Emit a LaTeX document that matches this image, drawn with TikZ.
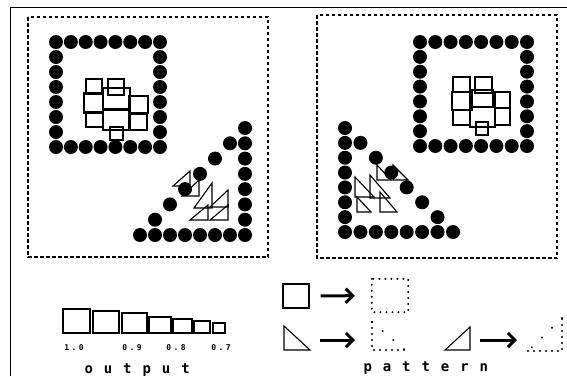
\documentclass[tikz,border=0pt]{standalone}
\usepackage{fontspec}
\newfontfamily\printfont[LetterSpace=78]{DejaVu Sans Mono}
\newfontfamily\digitfont[LetterSpace=30]{DejaVu Sans Mono}
\usetikzlibrary{arrows.meta}

\begin{document}
\begin{tikzpicture}[x=1pt,y=-1pt,
  frame/.style={line width=1pt},
  dashbox/.style={line width=1.5pt,dash pattern=on 3.5pt off 2.5pt},
  cell/.style={line width=1.1pt},
  wedge/.style={line width=1.1pt},
  dotline/.style={line width=2.2pt,line cap=round,dash pattern=on 0pt off 6pt},
  dotsparse/.style={line width=2.2pt,line cap=round,dash pattern=on 0pt off 14pt},
  bigarrow/.style={line width=3pt,-{Straight Barb[length=7pt,width=14pt,line width=3pt]}},
  size label/.style={font=\digitfont\bfseries\fontsize{8}{8}\selectfont},
  caption/.style={anchor=west,font=\printfont\bfseries\fontsize{14}{14}\selectfont}]
\useasboundingbox (0,0) rectangle (567,376);
\draw[frame] (10,376) -- (10,7) -- (567,7);
\draw[dashbox] (28,17) rectangle (268,257);
\draw[dashbox] (317,15) rectangle (557,258);
% left field: square ring of dots
\fill (56,42) circle[radius=7pt] (70.86,42) circle[radius=7pt] (85.71,42) circle[radius=7pt] (100.57,42) circle[radius=7pt] (115.43,42) circle[radius=7pt] (130.29,42) circle[radius=7pt] (145.14,42) circle[radius=7pt] (160,42) circle[radius=7pt];
\fill (56,147) circle[radius=7pt] (70.86,147) circle[radius=7pt] (85.71,147) circle[radius=7pt] (100.57,147) circle[radius=7pt] (115.43,147) circle[radius=7pt] (130.29,147) circle[radius=7pt] (145.14,147) circle[radius=7pt] (160,147) circle[radius=7pt];
\fill (56,57) circle[radius=7pt] (56,72) circle[radius=7pt] (56,87) circle[radius=7pt] (56,102) circle[radius=7pt] (56,117) circle[radius=7pt] (56,132) circle[radius=7pt];
\fill (160,57) circle[radius=7pt] (160,72) circle[radius=7pt] (160,87) circle[radius=7pt] (160,102) circle[radius=7pt] (160,117) circle[radius=7pt] (160,132) circle[radius=7pt];
\draw[cell] (86,79) rectangle (102,94);
\draw[cell] (108,79) rectangle (124,95);
\draw[cell] (84,93) rectangle (103,113);
\draw[cell] (103,88) rectangle (130,110);
\draw[cell] (129,96) rectangle (148,113);
\draw[cell] (86,112) rectangle (103,127);
\draw[cell] (103,109) rectangle (130,130);
\draw[cell] (129,114) rectangle (147,130);
\draw[cell] (110,127) rectangle (123,140);
% left field: triangle of dots
\fill (245,128) circle[radius=7pt] (245,143.29) circle[radius=7pt] (245,158.57) circle[radius=7pt] (245,173.86) circle[radius=7pt] (245,189.14) circle[radius=7pt] (245,204.43) circle[radius=7pt] (245,219.71) circle[radius=7pt] (245,235) circle[radius=7pt];
\fill (140,235) circle[radius=7pt] (155,235) circle[radius=7pt] (170,235) circle[radius=7pt] (185,235) circle[radius=7pt] (200,235) circle[radius=7pt] (215,235) circle[radius=7pt] (230,235) circle[radius=7pt];
\fill (230,143.29) circle[radius=7pt] (215,158.57) circle[radius=7pt] (200,173.86) circle[radius=7pt] (185,189.14) circle[radius=7pt] (170,204.43) circle[radius=7pt] (155,219.71) circle[radius=7pt];
\draw[wedge] (173,186) -- (190,171) -- (190,186) -- cycle;
\draw[wedge] (182,196) -- (199,180) -- (199,196) -- cycle;
\draw[wedge] (194,208) -- (212,183) -- (212,208) -- cycle;
\draw[wedge] (210,207) -- (228,190) -- (228,207) -- cycle;
\draw[wedge] (190,220) -- (208,205) -- (208,220) -- cycle;
\draw[wedge] (210,220) -- (228,205) -- (228,220) -- cycle;
% right field: square ring of dots
\fill (420,42) circle[radius=7pt] (435.29,42) circle[radius=7pt] (450.57,42) circle[radius=7pt] (465.86,42) circle[radius=7pt] (481.14,42) circle[radius=7pt] (496.43,42) circle[radius=7pt] (511.71,42) circle[radius=7pt] (527,42) circle[radius=7pt];
\fill (420,146) circle[radius=7pt] (435.29,146) circle[radius=7pt] (450.57,146) circle[radius=7pt] (465.86,146) circle[radius=7pt] (481.14,146) circle[radius=7pt] (496.43,146) circle[radius=7pt] (511.71,146) circle[radius=7pt] (527,146) circle[radius=7pt];
\fill (420,56.86) circle[radius=7pt] (420,71.71) circle[radius=7pt] (420,86.57) circle[radius=7pt] (420,101.43) circle[radius=7pt] (420,116.29) circle[radius=7pt] (420,131.14) circle[radius=7pt];
\fill (527,56.86) circle[radius=7pt] (527,71.71) circle[radius=7pt] (527,86.57) circle[radius=7pt] (527,101.43) circle[radius=7pt] (527,116.29) circle[radius=7pt] (527,131.14) circle[radius=7pt];
\draw[cell] (453,77) rectangle (470,92);
\draw[cell] (475,77) rectangle (492,93);
\draw[cell] (452,92) rectangle (472,110);
\draw[cell] (470,90) rectangle (493,107);
\draw[cell] (495,92) rectangle (510,108);
\draw[cell] (453,110) rectangle (470,125);
\draw[cell] (470,107) rectangle (495,127);
\draw[cell] (495,108) rectangle (510,125);
\draw[cell] (476,122) rectangle (488,135);
% right field: triangle of dots
\fill (345,128) circle[radius=7pt] (345,142.86) circle[radius=7pt] (345,157.71) circle[radius=7pt] (345,172.57) circle[radius=7pt] (345,187.43) circle[radius=7pt] (345,202.29) circle[radius=7pt] (345,217.14) circle[radius=7pt] (345,232) circle[radius=7pt];
\fill (360.43,232) circle[radius=7pt] (375.86,232) circle[radius=7pt] (391.29,232) circle[radius=7pt] (406.71,232) circle[radius=7pt] (422.14,232) circle[radius=7pt] (437.57,232) circle[radius=7pt] (453,232) circle[radius=7pt];
\fill (360.43,142.86) circle[radius=7pt] (375.86,157.71) circle[radius=7pt] (391.29,172.57) circle[radius=7pt] (406.71,187.43) circle[radius=7pt] (422.14,202.29) circle[radius=7pt] (437.57,217.14) circle[radius=7pt];
\draw[wedge] (377,165) -- (377,180) -- (391,180) -- cycle;
\draw[wedge] (393,165) -- (393,180) -- (408,180) -- cycle;
\draw[wedge] (355,177) -- (355,197) -- (374,197) -- cycle;
\draw[wedge] (370,175) -- (370,198) -- (390,198) -- cycle;
\draw[wedge] (357,197) -- (357,212) -- (371,212) -- cycle;
\draw[wedge] (380,192) -- (380,212) -- (397,212) -- cycle;
% output scale
\draw[cell] (63,309) rectangle (90,333);
\draw[cell] (93,311) rectangle (119,333);
\draw[cell] (122,313) rectangle (147,333);
\draw[cell] (149,317) rectangle (171,333);
\draw[cell] (173,319) rectangle (192,333);
\draw[cell] (194,321) rectangle (210,333);
\draw[cell] (213,323) rectangle (225,333);
\node[size label] (lab10) at (74,348) {1.0};
\node[size label] (lab09) at (132,348) {0.9};
\node[size label] (lab08) at (176,348) {0.8};
\node[size label] (lab07) at (221,348) {0.7};
\node[caption] (output) at (81,370) {output};
% pattern legend
\node[draw,cell,minimum width=26,minimum height=24,inner sep=0] (sqsolid) at (296,296) {};
\node[minimum width=36,minimum height=33,inner sep=0] (sqdots) at (390,295.5) {};
\draw[dotline] (sqdots.north west) rectangle (sqdots.south east);
\draw[bigarrow,shorten <=11pt,shorten >=17pt] (sqsolid) -- (sqdots);
\draw[wedge] (284,326) -- (284,350) -- (310,350) -- cycle;
\coordinate (trisolid) at (320,340);
\coordinate (tridots) at (355,340);
\draw[bigarrow] (trisolid) -- (tridots);
\draw[dotline] (372,322) -- (372,350) -- (405,350);
\draw[dotsparse] (372,322) -- (405,350);
\draw[wedge] (445,350) -- (470,327) -- (470,350) -- cycle;
\coordinate (wedgesolid) at (480,340);
\coordinate (wedgedots) at (517,340);
\draw[bigarrow] (wedgesolid) -- (wedgedots);
\draw[dotline] (528,351) -- (562,351) -- (562,318);
\draw[dotsparse] (562,318) -- (528,351);
\node[caption] (pattern) at (360,368) {pattern};
\end{tikzpicture}
\end{document}
